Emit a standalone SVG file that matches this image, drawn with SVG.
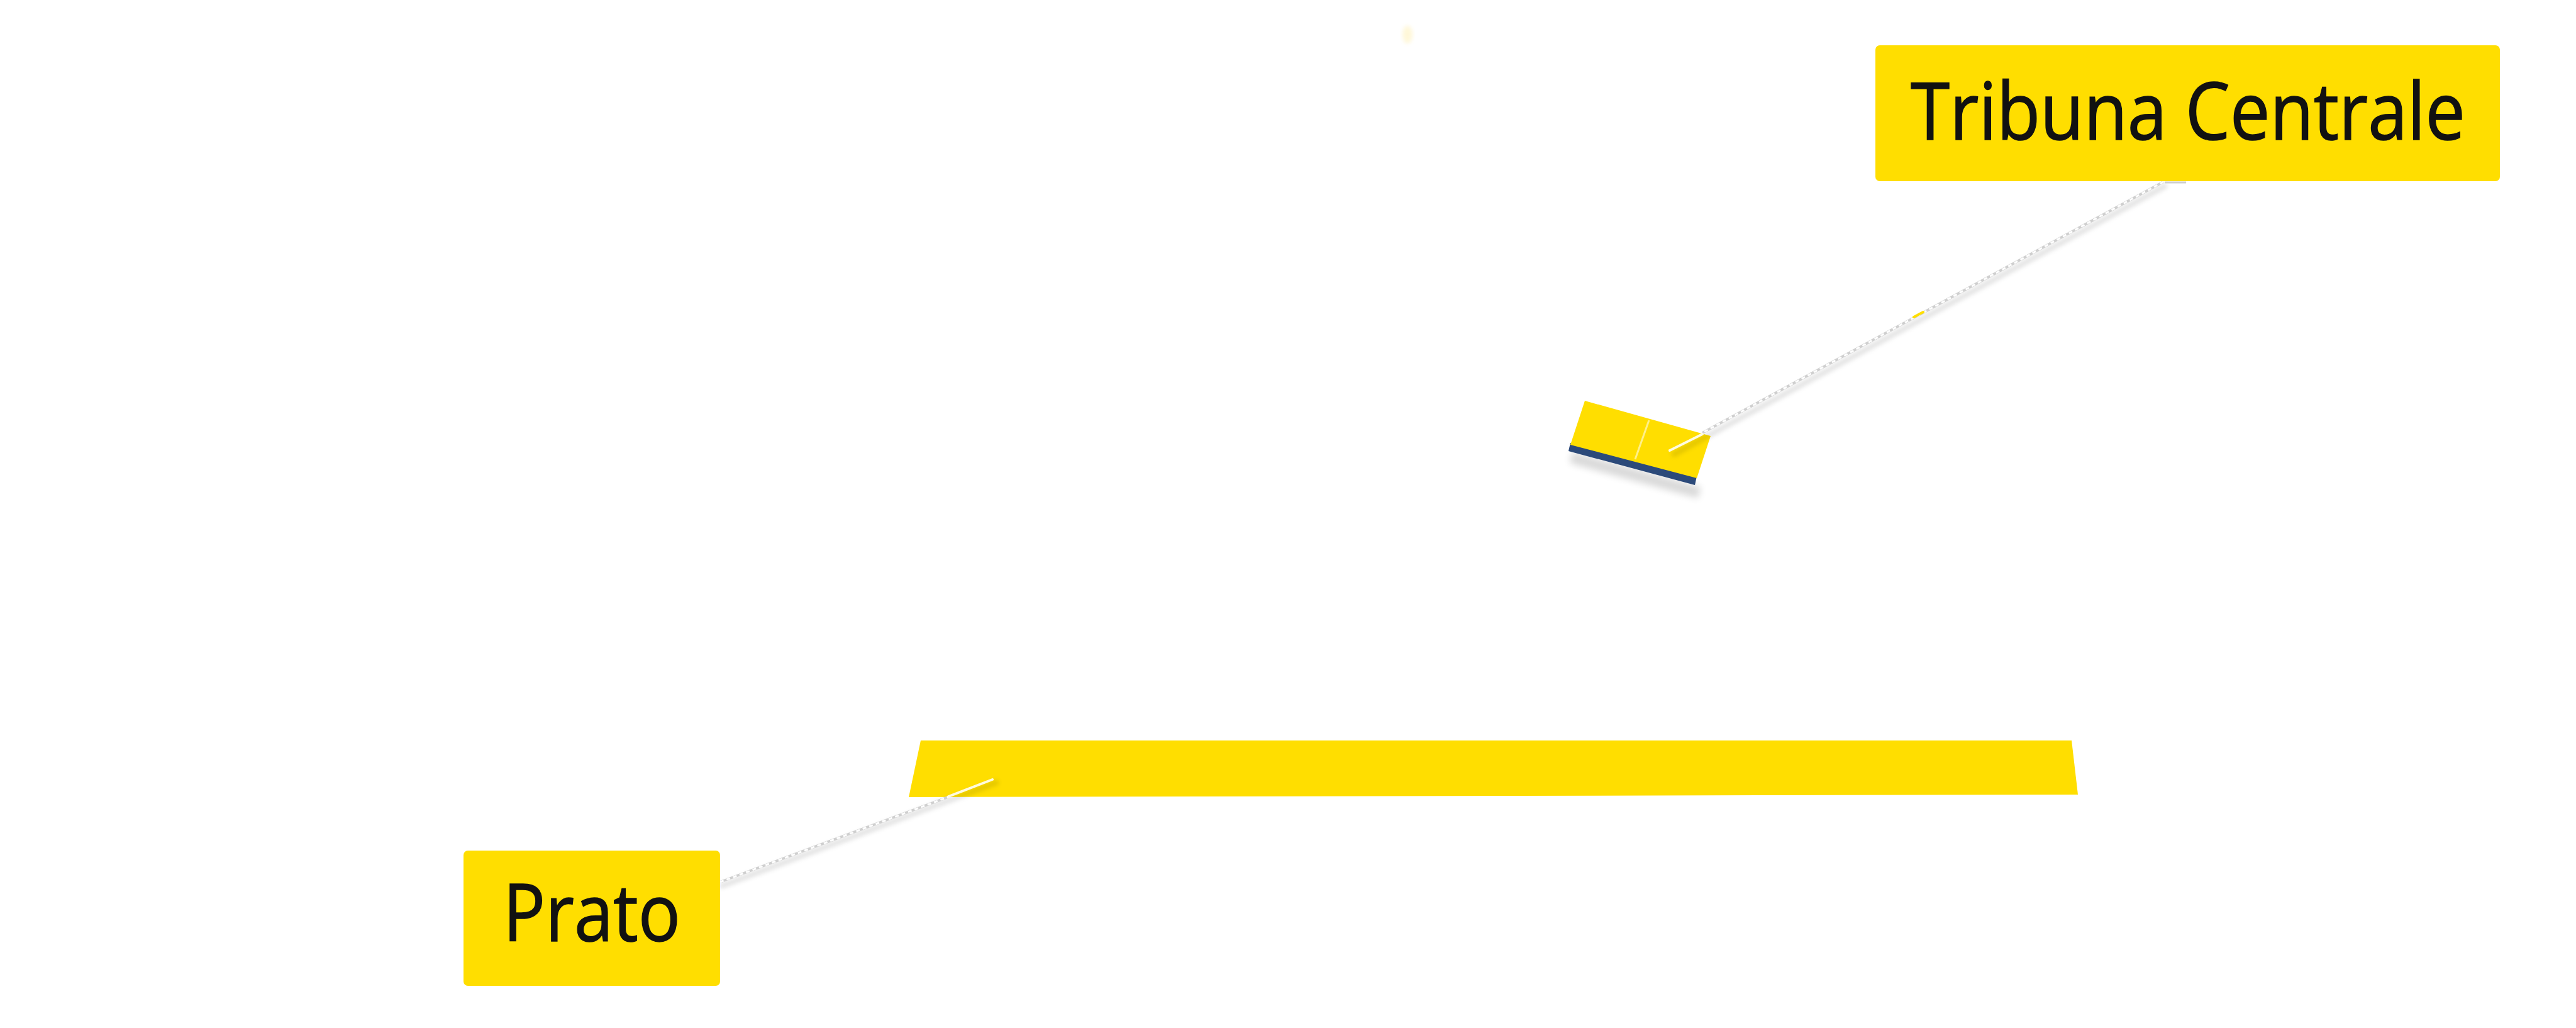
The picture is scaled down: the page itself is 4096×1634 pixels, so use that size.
<svg xmlns="http://www.w3.org/2000/svg" width="4096" height="1634" viewBox="0 0 4096 1634">
  <style>
    .label-box { fill: #FFDE00; }
    .label-text { font-family: "Open Sans", "Noto Sans", "Liberation Sans", sans-serif; font-size: 126px; fill: #111111; stroke: #111111; stroke-width: 1.5; }
    .lead-shadow { stroke: #000000; stroke-opacity: 0.10; stroke-width: 9; fill: none; stroke-linecap: round; }
    .lead-base { stroke: #cfcfcf; stroke-width: 4; fill: none; }
    .lead-dash { stroke: #ffffff; stroke-width: 3; fill: none; stroke-dasharray: 6 5; }
    .lead-in { stroke: #fffbe0; stroke-width: 4; fill: none; stroke-linecap: round; }
  </style>
  <defs>
    <filter id="soft" x="-20%" y="-50%" width="140%" height="200%">
      <feGaussianBlur stdDeviation="6"/>
    </filter>
    <filter id="blur2" x="-20%" y="-50%" width="140%" height="200%">
      <feGaussianBlur stdDeviation="3"/>
    </filter>
  </defs>
  <rect width="4096" height="1634" fill="#ffffff"/>

  <!-- faint speck at top -->
  <ellipse cx="2238" cy="55" rx="8" ry="14" fill="#FFE680" opacity="0.3" filter="url(#blur2)"/>

  <!-- Prato field bar -->
  <g id="prato-field">
    <polygon points="1464,1177 3294,1177 3304,1263 1445,1267" fill="#FFDE00"/>
  </g>

  <!-- Tribuna Centrale block -->
  <g id="tribuna-block">
    <polygon points="2500,718 2704,774 2700,792 2496,736" fill="#000" opacity="0.15" filter="url(#soft)"/>
    <polygon points="2497,704 2698,757 2695,771 2494,717" fill="#2C4A7A"/>
    <polygon points="2520,637 2720,693 2698,760 2497,707" fill="#FFDE00"/>
    <line x1="2622" y1="668" x2="2600" y2="730" stroke="#FFF08A" stroke-width="3"/>
  </g>

  <!-- connectors -->
  <g id="connectors">
    <g filter="url(#blur2)">
      <line class="lead-shadow" x1="3442" y1="296" x2="2662" y2="722"/>
      <line class="lead-shadow" x1="1148" y1="1408" x2="1584" y2="1244"/>
    </g>
    <line class="lead-base" x1="3440" y1="289" x2="2707" y2="688"/>
    <line class="lead-dash" x1="3440" y1="289" x2="2707" y2="688"/>
    <line class="lead-in" x1="2707" y1="690" x2="2655" y2="716"/>
    <line x1="3442" y1="290" x2="3476" y2="290" stroke="#cfcfcf" stroke-width="3"/>
    <line x1="3043" y1="504" x2="3058" y2="496" stroke="#FFDE00" stroke-width="4" stroke-linecap="round"/>

    <line class="lead-base" x1="1145" y1="1402" x2="1510" y2="1266"/>
    <line class="lead-dash" x1="1145" y1="1402" x2="1510" y2="1266"/>
    <line class="lead-in" x1="1508" y1="1266" x2="1578" y2="1239"/>
  </g>

  <!-- Label: Tribuna Centrale -->
  <g id="label-tribuna">
    <rect class="label-box" x="2982" y="72" width="993" height="216" rx="7"/>
    <text class="label-text" x="3038" y="222" textLength="882" lengthAdjust="spacingAndGlyphs">Tribuna Centrale</text>
  </g>

  <!-- Label: Prato -->
  <g id="label-prato">
    <rect class="label-box" x="737" y="1352" width="408" height="215" rx="7"/>
    <text class="label-text" x="800" y="1496" textLength="282" lengthAdjust="spacingAndGlyphs">Prato</text>
  </g>
</svg>
